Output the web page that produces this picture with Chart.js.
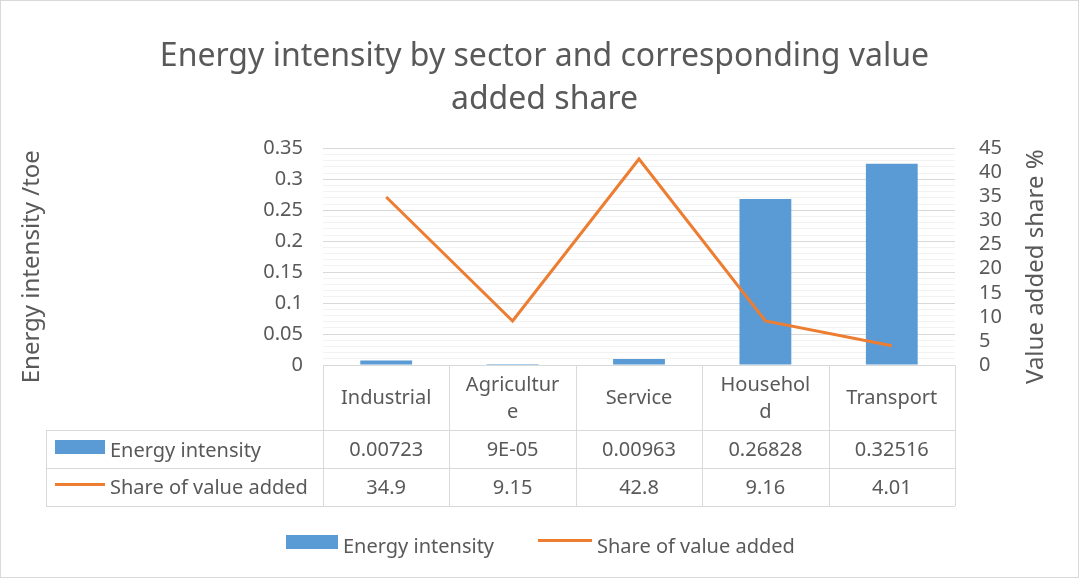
<!DOCTYPE html>
<html>
<head>
<meta charset="utf-8">
<script src="https://cdn.jsdelivr.net/npm/chart.js@4.4.1/dist/chart.umd.min.js"></script>
<style>
  html, body { margin: 0; padding: 0; background: #fff; }
  canvas { display: block; }
</style>
</head>
<body>
<canvas id="chart" width="1079" height="578"></canvas>
<script>
// ---- data ----
const categories = ['Industrial', ['Agricultur', 'e'], 'Service', ['Househol', 'd'], 'Transport'];
const energyIntensity = [0.00723, 0.00009, 0.00963, 0.26828, 0.32516];
const valueAddedShare = [34.9, 9.15, 42.8, 9.16, 4.01];
const seriesNames = ['Energy intensity', 'Share of value added'];
const titleLines = ['Energy intensity by sector and corresponding value', 'added share'];
const axisTitles = ['Energy intensity /toe', 'Value added share %'];

// ---- styles ----
const FONT = '"Noto Sans", "Open Sans", sans-serif';
const TXT = '#595959';
const BLUE = '#5B9BD5';
const ORANGE = '#ED7D31';
const LINE = '#D9D9D9';

// Excel "General" style number text
function fmt(v) {
    if (v !== 0 && Math.abs(v) < 0.0001) {
        let s = v.toExponential(0).toUpperCase();
        return s.replace(/E([+-])(\d)$/, 'E$10$2');
    }
    return String(v);
}

// rotated axis title, reading bottom to top
function sideTitle(ctx, text, x, y) {
    ctx.save();
    ctx.translate(x, y);
    ctx.rotate(-Math.PI / 2);
    ctx.textAlign = 'center';
    ctx.textBaseline = 'middle';
    ctx.font = '24px ' + FONT;
    ctx.fillStyle = TXT;
    ctx.fillText(text, 0, 0);
    ctx.restore();
}

// table under the plot + bottom legend + axis titles
const tablePlugin = {
    id: 'dataTable',
    afterDraw(chart) {
        const ctx = chart.ctx;
        const area = chart.chartArea;
        const xs = chart.scales.x;
        const n = categories.length;
        const colW = (area.right - area.left) / n;
        const tableLeft = 46;
        const y0 = area.bottom, y1 = xs.bottom, y2 = y1 + 38, y3 = y2 + 38;

        ctx.save();
        ctx.strokeStyle = LINE;
        ctx.lineWidth = 1;
        ctx.beginPath();
        ctx.moveTo(area.left, Math.round(y0) + 0.5); ctx.lineTo(area.right, Math.round(y0) + 0.5);
        [y1, y2, y3].forEach(y => {
            ctx.moveTo(tableLeft, Math.round(y) + 0.5); ctx.lineTo(area.right, Math.round(y) + 0.5);
        });
        for (let i = 0; i <= n; i++) {
            const x = Math.round(area.left + i * colW) + 0.5;
            ctx.moveTo(x, y0); ctx.lineTo(x, y3);
        }
        ctx.moveTo(tableLeft + 0.5, y1); ctx.lineTo(tableLeft + 0.5, y3);
        ctx.stroke();

        ctx.fillStyle = TXT;
        ctx.font = '20px ' + FONT;
        ctx.textAlign = 'center';
        ctx.textBaseline = 'middle';
        categories.forEach((c, i) => {
            const cx = xs.getPixelForValue(i);
            const lines = Array.isArray(c) ? c : [c];
            const lh = 27;
            const mid = (y0 + y1) / 2 + 1;
            lines.forEach((t, k) => {
                ctx.fillText(t, cx, mid + (k - (lines.length - 1) / 2) * lh);
            });
            ctx.fillText(fmt(energyIntensity[i]), cx, (y1 + y2) / 2 + 1);
            ctx.fillText(fmt(valueAddedShare[i]), cx, (y2 + y3) / 2 + 1);
        });

        // row headers
        ctx.textAlign = 'left';
        ctx.fillStyle = BLUE;
        ctx.fillRect(55, y1 + 10, 50, 14);
        ctx.fillStyle = ORANGE;
        ctx.fillRect(55, (y2 + y3) / 2 - 4, 50, 3);
        ctx.fillStyle = TXT;
        ctx.fillText(seriesNames[0], 110, (y1 + y2) / 2 + 2);
        ctx.fillText(seriesNames[1], 110, (y2 + y3) / 2 + 1);

        // bottom legend
        ctx.fillStyle = BLUE;
        ctx.fillRect(286, 535, 52, 14);
        ctx.fillStyle = ORANGE;
        ctx.fillRect(538, 539, 54, 3);
        ctx.fillStyle = TXT;
        ctx.fillText(seriesNames[0], 343, 547);
        ctx.fillText(seriesNames[1], 597, 547);

        // axis titles
        const midY = (area.top + area.bottom) / 2 + 10;
        sideTitle(ctx, axisTitles[0], 32, midY);
        sideTitle(ctx, axisTitles[1], 1036, midY);

        // outer border
        ctx.strokeStyle = LINE;
        ctx.strokeRect(0.5, 0.5, chart.width - 1, chart.height - 1);
        ctx.restore();
    }
};

new Chart(document.getElementById('chart'), {
    type: 'bar',
    data: {
        labels: categories,
        datasets: [
            {
                label: seriesNames[1],
                type: 'line',
                data: valueAddedShare,
                yAxisID: 'y1',
                borderColor: ORANGE,
                borderWidth: 3,
                pointRadius: 0,
                tension: 0,
                order: 0
            },
            {
                label: seriesNames[0],
                data: energyIntensity,
                yAxisID: 'y',
                backgroundColor: BLUE,
                barPercentage: 0.41,
                categoryPercentage: 1,
                order: 1
            }
        ]
    },
    options: {
        responsive: false,
        animation: false,
        layout: { padding: { left: 10, right: 0, top: 0, bottom: 148 } },
        plugins: {
            legend: { display: false },
            tooltip: { enabled: false },
            title: {
                display: true,
                text: titleLines,
                color: TXT,
                font: { family: FONT, size: 32, weight: 'normal', lineHeight: 1.35 },
                padding: { top: 35, bottom: 27 }
            }
        },
        scales: {
            x: {
                grid: { display: false },
                border: { display: false },
                ticks: { display: false },
                afterFit: s => { s.height = 65; }
            },
            y: {
                position: 'left',
                min: 0,
                max: 0.35,
                afterFit: s => { s.width = 313; },
                border: { display: false },
                grid: {
                    drawTicks: false,
                    color: c => (c.index % 5 === 0 ? LINE : '#F2F2F2')
                },
                ticks: {
                    stepSize: 0.01,
                    autoSkip: false,
                    padding: 20,
                    color: TXT,
                    font: { family: FONT, size: 20 },
                    callback: (v, i) => (i % 5 === 0 ? String(Math.round(v * 100) / 100) : '')
                }
            },
            y1: {
                position: 'right',
                min: 0,
                max: 45,
                afterFit: s => { s.width = 124; },
                border: { display: false },
                grid: { drawOnChartArea: false, drawTicks: false },
                ticks: {
                    stepSize: 5,
                    autoSkip: false,
                    padding: 24,
                    color: TXT,
                    font: { family: FONT, size: 20 }
                }
            }
        }
    },
    plugins: [tablePlugin]
});
</script>
</body>
</html>
